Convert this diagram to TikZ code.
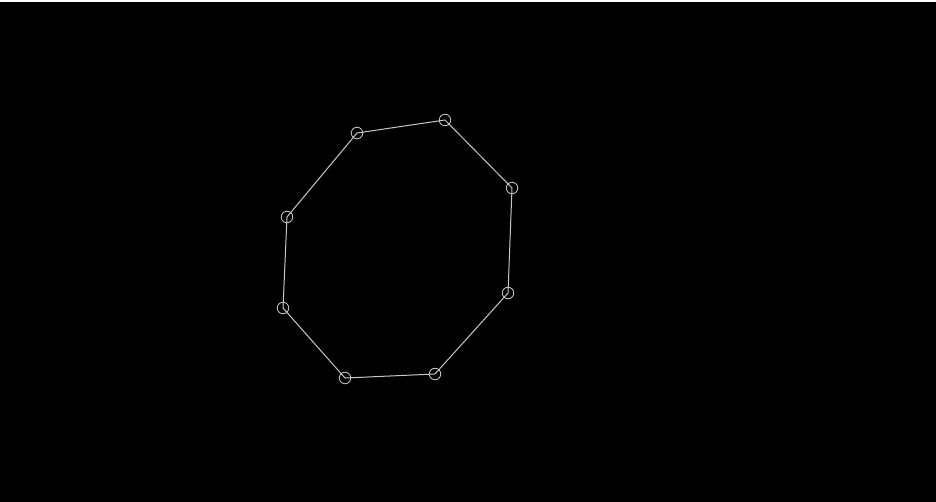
\documentclass[tikz,border=0pt]{standalone}
\begin{document}
\begin{tikzpicture}[x=1pt,y=-1pt,
  vert/.style={circle,draw=linegray,line width=0.8pt,minimum size=11.5pt,inner sep=0pt},
  edge/.style={draw=linegray,line width=1pt}]
\definecolor{linegray}{RGB}{200,200,200}
\useasboundingbox (0,0) rectangle (936,502);
\fill[black] (0,0) rectangle (936,502);
\fill[white] (0,0) rectangle (936,2);
\node[vert] (v1) at (357,133) {};
\node[vert] (v2) at (445,120) {};
\node[vert] (v3) at (512,188) {};
\node[vert] (v4) at (508,293) {};
\node[vert] (v5) at (435,374) {};
\node[vert] (v6) at (345,378) {};
\node[vert] (v7) at (283,308) {};
\node[vert] (v8) at (287,217) {};
\draw[edge] (v1.center) -- (v2.center) -- (v3.center) -- (v4.center) -- (v5.center) -- (v6.center) -- (v7.center) -- (v8.center) -- cycle;
\end{tikzpicture}
\end{document}
